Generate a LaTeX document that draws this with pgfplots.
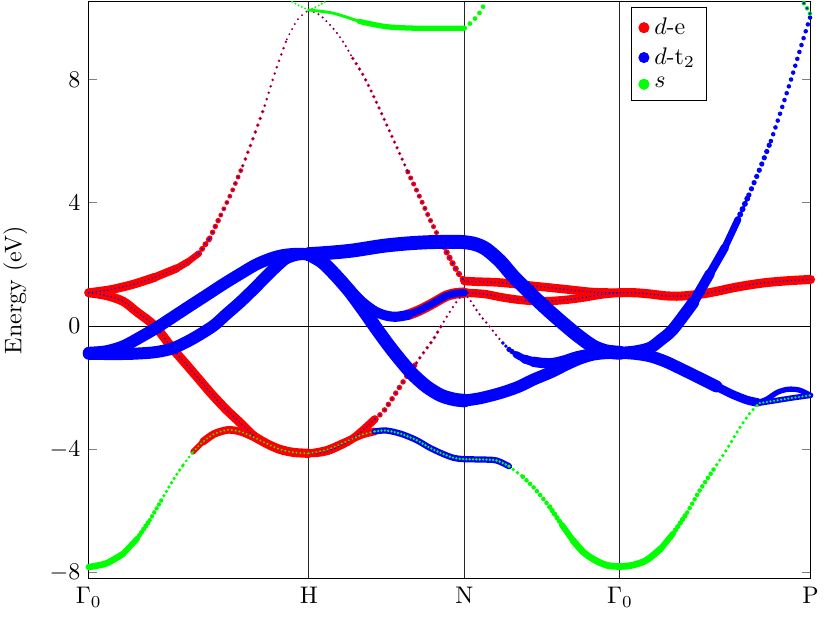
\documentclass[border=0pt]{standalone}
\usepackage{pgfplots}
\usepackage{pgfplotstable}
\pgfplotsset{compat=1.18}

% band keypoints: k (path length, Gamma0-H = 1), E (eV)
\pgfplotstableread{
k E
0 1.08
0.1 1.18
0.2 1.35
0.3 1.58
0.4 1.87
0.45 2.08
0.5 2.35
0.55 2.85
0.6 3.6
0.65 4.35
0.7 5.2
0.75 6.15
0.8 7.15
0.85 8.3
0.9 9.3
0.95 9.95
1.0 10.25
}\bA
\pgfplotstableread{
k E
0 1.08
0.08 0.99
0.156 0.8
0.22 0.45
0.3 0.0
0.383 -0.75
0.44 -1.22
0.5 -1.72
0.56 -2.22
0.626 -2.72
0.69 -3.15
0.747 -3.55
0.81 -3.82
0.868 -4.0
0.93 -4.1
1.0 -4.13
}\bB
\pgfplotstableread{
k E
0 -7.82
0.08 -7.7
0.156 -7.39
0.22 -6.9
0.277 -6.3
0.33 -5.65
0.383 -5.0
0.43 -4.5
0.474 -4.08
0.52 -3.75
0.57 -3.5
0.633 -3.37
0.69 -3.43
0.747 -3.6
0.81 -3.82
0.868 -4.0
0.93 -4.1
1.0 -4.13
}\bC
\pgfplotstableread{
k E
0 -0.87
0.08 -0.82
0.156 -0.66
0.23 -0.38
0.307 -0.06
0.38 0.28
0.459 0.65
0.535 1.0
0.61 1.35
0.69 1.7
0.762 2.0
0.83 2.2
0.883 2.3
0.94 2.34
1.0 2.33
}\bD
\pgfplotstableread{
k E
0 -0.9
0.1 -0.91
0.2 -0.9
0.3 -0.85
0.383 -0.72
0.47 -0.42
0.565 0.0
0.625 0.38
0.686 0.76
0.75 1.2
0.808 1.62
0.86 1.98
0.898 2.2
0.95 2.32
1.0 2.33
}\bE
\pgfplotstableread{
k E
1.0 2.33
1.1 2.38
1.2 2.45
1.337 2.6
1.45 2.68
1.55 2.72
1.65 2.73
1.7071 2.72
1.76 2.65
1.807 2.49
1.87 2.1
1.928 1.62
1.99 1.18
2.05 0.76
2.11 0.37
2.17 0.0
2.23 -0.35
2.292 -0.66
2.35 -0.82
2.4142 -0.87
}\bF
\pgfplotstableread{
k E
1.0 2.33
1.06 2.12
1.12 1.72
1.18 1.25
1.24 0.8
1.3 0.48
1.35 0.34
1.397 0.3
1.45 0.36
1.5 0.5
1.56 0.72
1.625 0.98
1.67 1.06
1.7071 1.08
1.76 1.06
1.807 1.03
1.87 0.94
1.943 0.86
2.02 0.81
2.095 0.81
2.17 0.85
2.246 0.92
2.33 1.02
2.4142 1.08
}\bG
\pgfplotstableread{
k E
1.0 2.33
1.06 2.08
1.12 1.66
1.186 1.12
1.25 0.5
1.307 -0.08
1.36 -0.6
1.413 -1.08
1.47 -1.55
1.534 -1.96
1.6 -2.25
1.66 -2.38
1.7071 -2.42
1.78 -2.34
1.868 -2.18
1.95 -1.98
2.02 -1.74
2.1 -1.5
2.17 -1.25
2.23 -1.06
2.29 -0.93
2.35 -0.88
2.4142 -0.87
}\bH
\pgfplotstableread{
k E
1.0 10.25
1.05 10.09
1.11 9.66
1.156 9.22
1.2 8.68
1.247 8.14
1.292 7.49
1.338 6.78
1.4 5.8
1.45 5.0
1.5 4.25
1.55 3.47
1.6 2.75
1.65 2.08
1.686 1.65
1.7071 1.46
1.76 1.44
1.868 1.41
2.02 1.3
2.17 1.19
2.29 1.1
2.4142 1.08
}\bI
\pgfplotstableread{
k E
1.0 -4.13
1.05 -4.11
1.1 -4.02
1.186 -3.72
1.25 -3.35
1.3 -3.02
1.338 -2.78
1.375 -2.4
1.413 -1.98
1.45 -1.58
1.489 -1.2
1.525 -0.83
1.565 -0.44
1.6 -0.02
1.64 0.45
1.675 0.82
1.7071 1.08
}\bJ
\pgfplotstableread{
k E
1.7071 1.08
1.735 0.82
1.76 0.54
1.79 0.25
1.82 0.0
1.85 -0.28
1.882 -0.55
1.91 -0.76
1.943 -0.93
1.98 -1.07
2.02 -1.16
2.065 -1.2
2.11 -1.2
2.16 -1.12
2.216 -0.99
2.27 -0.91
2.32 -0.87
2.4142 -0.87
}\bK
\pgfplotstableread{
k E
1.0 -4.13
1.08 -4.02
1.16 -3.78
1.24 -3.53
1.3 -3.42
1.352 -3.39
1.42 -3.5
1.489 -3.7
1.55 -3.95
1.61 -4.15
1.66 -4.28
1.7071 -4.32
1.78 -4.33
1.852 -4.36
1.91 -4.55
1.973 -4.89
2.03 -5.3
2.095 -5.87
2.15 -6.45
2.2 -6.95
2.25 -7.35
2.307 -7.62
2.36 -7.77
2.4142 -7.8
2.47 -7.76
2.534 -7.6
2.6 -7.22
2.655 -6.74
2.72 -6.05
2.777 -5.33
2.84 -4.65
2.898 -4.02
2.95 -3.4
3.004 -2.83
3.05 -2.5
3.12 -2.42
3.2 -2.33
3.2802 -2.25
}\bL
\pgfplotstableread{
k E
2.4142 1.08
2.48 1.08
2.55 1.04
2.62 0.98
2.69 0.97
2.777 1.03
2.85 1.12
2.928 1.24
3.0 1.33
3.08 1.41
3.18 1.47
3.2802 1.51
}\bM
\pgfplotstableread{
k E
2.4142 -0.87
2.48 -0.83
2.55 -0.71
2.6 -0.45
2.655 -0.11
2.747 0.76
2.823 1.7
2.891 2.55
2.95 3.45
3.0 4.25
3.05 5.1
3.1 6.0
3.14 6.85
3.194 8.05
3.23 8.9
3.26 9.6
3.2802 10.05
}\bN
\pgfplotstableread{
k E
2.4142 -0.87
2.48 -0.9
2.55 -0.98
2.62 -1.15
2.7 -1.42
2.78 -1.7
2.853 -1.96
2.92 -2.2
2.99 -2.4
3.04 -2.48
3.08 -2.38
3.13 -2.15
3.18 -2.05
3.23 -2.08
3.2802 -2.25
}\bO
\pgfplotstableread{
k E
1.0 10.25
1.11 10.15
1.23 9.88
1.353 9.71
1.489 9.66
1.6 9.66
1.7071 9.66
1.75 9.93
1.78 10.2
1.8 10.48
}\bP
\pgfplotstableread{
k E
0.925 10.52
0.96 10.38
1.0 10.25
}\bXa
\pgfplotstableread{
k E
1.0 10.25
1.04 10.38
1.075 10.52
}\bXb
\pgfplotstableread{
k E
3.25 10.47
3.265 10.3
3.2802 10.1
}\bQ

\pgfplotsset{
  fb/.style={forget plot, smooth, line cap=round, line join=round, line width=#1},
  fd/.style 2 args={forget plot, smooth, line cap=round, line width=#1, dash pattern=on 0pt off #2},
  dom/.style={restrict x to domain=#1},
}

\begin{document}
\begin{tikzpicture}
\begin{axis}[
  scale only axis, width=300.8pt, height=240.5pt,
  xmin=0, xmax=3.2802, ymin=-8.2, ymax=10.52,
  clip=false,
  xtick={0,1,1.7071,2.4142,3.2802},
  xticklabels={$\Gamma_0$,H,N,$\Gamma_0$,P},
  ytick={-8,-4,0,4,8},
  xmajorgrids, major grid style={black!85, line width=0.4pt},
  xtick style={draw=none},
  major tick length=3.5pt,
  ylabel={Energy (eV)},
  ylabel style={at={(axis description cs:-0.0845,0.5)}, anchor=south, inner sep=0pt},
  legend style={at={(0.857,0.99)}, anchor=north east, draw=black,
    nodes={inner xsep=2pt}},
  legend cell align=left,
  legend image code/.code={\fill[#1] (0pt,0pt) circle (2.1pt);},
]
\addlegendimage{red}\addlegendentry{$d$-e}
\addlegendimage{blue}\addlegendentry{$d$-t$_2$}
\addlegendimage{green}\addlegendentry{$s$}

\addplot[forget plot, black, line width=0.4pt] coordinates {(0,0) (3.2802,0)};

% ---- d-e (red) layer
\addplot[red, fb=3.7pt, dom=0:0.3] table {\bA};
\addplot[red, fb=3.4pt, dom=0.3:0.4] table {\bA};
\addplot[red, fb=3.0pt, dom=0.4:0.45] table {\bA};
\addplot[red, fb=2.7pt, dom=0.45:0.5] table {\bA};
\addplot[red, fd={2.5pt}{2.4pt}, dom=0.5:0.55] table {\bA};
\addplot[red, fd={2.3pt}{2.7pt}, dom=0.55:0.6] table {\bA};
\addplot[red, fd={2pt}{2.9pt}, dom=0.6:0.7] table {\bA};
\addplot[red, fd={1.6pt}{3pt}, dom=0.7:0.8] table {\bA};
\addplot[red, fd={1.2pt}{2.8pt}, dom=0.8:0.9] table {\bA};
\addplot[red, fd={0.9pt}{2.4pt}, dom=0.9:1] table {\bA};
\addplot[red, fb=3.8pt] table {\bB};
\addplot[red, fb=2.3pt, dom=0.474:0.52] table {\bC};
\addplot[red, fb=3.2pt, dom=0.52:1] table {\bC};
\addplot[red, fb=4.4pt, dom=1.45:1.7071] table {\bG};
\addplot[red, fb=3.5pt, dom=1.7071:2.4142] table {\bG};
\addplot[red, fd={1pt}{2.2pt}, dom=1:1.2] table {\bI};
\addplot[red, fd={1.5pt}{2.6pt}, dom=1.2:1.45] table {\bI};
\addplot[red, fd={2.1pt}{2.8pt}, dom=1.45:1.6] table {\bI};
\addplot[red, fd={2.6pt}{2.6pt}, dom=1.6:1.7071] table {\bI};
\addplot[red, fb=3.6pt, dom=1.7071:2.4142] table {\bI};
\addplot[red, fb=3.3pt, dom=1:1.3] table {\bJ};
\addplot[red, fd={2.3pt}{2.8pt}, dom=1.3:1.489] table {\bJ};
\addplot[red, fd={1.6pt}{2.6pt}, dom=1.489:1.6] table {\bJ};
\addplot[red, fd={1.1pt}{2.4pt}, dom=1.6:1.7071] table {\bJ};
\addplot[red, fd={1.1pt}{2.2pt}, dom=1.7071:1.882] table {\bK};
\addplot[red, fb=3.2pt, dom=1:1.3] table {\bL};
\addplot[red, fb=3.8pt] table {\bM};

% ---- d-t2 (blue) layer
\addplot[blue, fb=5pt] table {\bD};
\addplot[blue, fb=5pt] table {\bE};
\addplot[blue, fb=5.8pt] table {\bF};
\addplot[blue, fb=4.2pt, dom=1:1.45] table {\bG};
\addplot[blue, fb=3pt, dom=1.45:1.7071] table {\bG};
\addplot[blue, fb=5.6pt, dom=1:1.7071] table {\bH};
\addplot[blue, fb=5pt, dom=1.7071:2.4142] table {\bH};
\addplot[blue, fd={1.6pt}{1.8pt}, dom=1.882:1.91] table {\bK};
\addplot[blue, fd={2.2pt}{1.5pt}, dom=1.91:1.943] table {\bK};
\addplot[blue, fb=3pt, dom=1.943:1.98] table {\bK};
\addplot[blue, fb=3.7pt, dom=1.98:2.02] table {\bK};
\addplot[blue, fb=4.3pt, dom=2.02:2.4142] table {\bK};
\addplot[blue, fb=2.6pt, dom=1.3:1.91] table {\bL};
\addplot[blue, fb=2.3pt, dom=3.05:3.2802] table {\bL};
\addplot[blue, fb=5pt, dom=2.4142:2.747] table {\bN};
\addplot[blue, fb=4.2pt, dom=2.747:2.823] table {\bN};
\addplot[blue, fb=3.5pt, dom=2.823:2.891] table {\bN};
\addplot[blue, fb=2.9pt, dom=2.891:2.95] table {\bN};
\addplot[blue, fd={2.5pt}{2.4pt}, dom=2.95:3.0] table {\bN};
\addplot[blue, fd={2.2pt}{2.8pt}, dom=3.0:3.1] table {\bN};
\addplot[blue, fd={1.9pt}{3pt}, dom=3.1:3.2802] table {\bN};
\addplot[blue, fb=5pt, dom=2.4142:2.853] table {\bO};
\addplot[blue, fb=3.6pt, dom=2.853:3.04] table {\bO};
\addplot[blue, fb=2.2pt, dom=3.04:3.2802] table {\bO};
% blue weight inside the red bands
\addplot[blue, fd={0.7pt}{1.6pt}, dom=0:0.5] table {\bA};
\addplot[blue, fd={1pt}{2.4pt}, dom=0.5:0.55] table {\bA};
\addplot[blue, fd={0.9pt}{2.7pt}, dom=0.55:0.6] table {\bA};
\addplot[blue, fd={0.8pt}{2.9pt}, dom=0.6:0.7] table {\bA};
\addplot[blue, fd={0.7pt}{3pt}, dom=0.7:0.8] table {\bA};
\addplot[blue, fd={0.6pt}{2.8pt}, dom=0.8:0.9] table {\bA};
\addplot[blue, fd={0.55pt}{2.4pt}, dom=0.9:1] table {\bA};
\addplot[blue, fd={0.7pt}{1.6pt}, dom=0:0.747] table {\bB};
\addplot[blue, fd={0.7pt}{1.6pt}, dom=1.7071:2.4142] table {\bG};
\addplot[blue, fd={0.6pt}{2.2pt}, dom=1:1.2] table {\bI};
\addplot[blue, fd={0.7pt}{2.6pt}, dom=1.2:1.45] table {\bI};
\addplot[blue, fd={0.9pt}{2.8pt}, dom=1.45:1.6] table {\bI};
\addplot[blue, fd={1pt}{2.6pt}, dom=1.6:1.7071] table {\bI};
\addplot[blue, fd={0.7pt}{1.6pt}, dom=1.7071:2.4142] table {\bI};
\addplot[blue, fd={0.7pt}{1.6pt}, dom=1:1.3] table {\bJ};
\addplot[blue, fd={0.9pt}{2.8pt}, dom=1.3:1.489] table {\bJ};
\addplot[blue, fd={0.7pt}{2.6pt}, dom=1.489:1.6] table {\bJ};
\addplot[blue, fd={0.6pt}{2.4pt}, dom=1.6:1.7071] table {\bJ};
\addplot[blue, fd={0.65pt}{2.2pt}, dom=1.7071:1.882] table {\bK};
\addplot[blue, fd={0.7pt}{1.6pt}] table {\bM};

% ---- s (green) layer
\addplot[green, fb=2.7pt, dom=0:0.156] table {\bC};
\addplot[green, fb=2.4pt, dom=0.156:0.22] table {\bC};
\addplot[green, fd={2.1pt}{1.6pt}, dom=0.22:0.277] table {\bC};
\addplot[green, fd={1.8pt}{1.9pt}, dom=0.277:0.33] table {\bC};
\addplot[green, fd={1.5pt}{2.1pt}, dom=0.33:0.43] table {\bC};
\addplot[green, fd={1.3pt}{2pt}, dom=0.43:0.474] table {\bC};
\addplot[green, fd={0.9pt}{1.6pt}, dom=0.474:1] table {\bC};
\addplot[green, fd={0.9pt}{1.6pt}, dom=1:1.3] table {\bL};
\addplot[green, fd={1.1pt}{1.4pt}, dom=1.3:1.91] table {\bL};
\addplot[green, fd={1.6pt}{2.2pt}, dom=1.91:1.973] table {\bL};
\addplot[green, fd={1.9pt}{2.1pt}, dom=1.973:2.095] table {\bL};
\addplot[green, fd={2.2pt}{1.8pt}, dom=2.095:2.15] table {\bL};
\addplot[green, fb=2.5pt, dom=2.15:2.2] table {\bL};
\addplot[green, fb=2.8pt, dom=2.2:2.6] table {\bL};
\addplot[green, fb=2.5pt, dom=2.6:2.655] table {\bL};
\addplot[green, fd={2.2pt}{1.8pt}, dom=2.655:2.72] table {\bL};
\addplot[green, fd={1.9pt}{2.1pt}, dom=2.72:2.84] table {\bL};
\addplot[green, fd={1.5pt}{2.3pt}, dom=2.84:3.05] table {\bL};
\addplot[green, fd={1pt}{1.5pt}, dom=3.05:3.2802] table {\bL};
\addplot[green, fb=1.2pt, dom=1:1.23] table {\bP};
\addplot[green, fb=2.2pt, dom=1.23:1.7071] table {\bP};
\addplot[green, fd={2pt}{3pt}, dom=1.7071:1.8] table {\bP};
\addplot[green, fd={0.9pt}{1.5pt}] table {\bXa};
\addplot[green, fd={0.9pt}{1.5pt}] table {\bXb};
\addplot[green, fd={1.9pt}{2.5pt}] table {\bQ};
\addplot[blue, fd={1.2pt}{2.5pt}] table {\bQ};

\path (rel axis cs:-0.123,-0.075) (rel axis cs:1.027,1.003);
\end{axis}
\end{tikzpicture}
\end{document}
